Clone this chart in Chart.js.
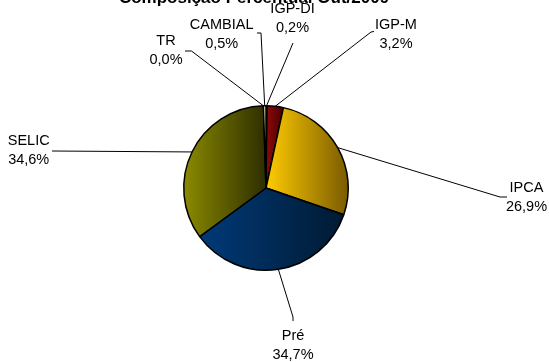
<!DOCTYPE html>
<html>
<head>
<meta charset="utf-8">
<script src="https://cdn.jsdelivr.net/npm/chart.js@4.4.1/dist/chart.umd.min.js"></script>
<style>
  html, body { margin: 0; padding: 0; background: #ffffff; }
  #wrap { width: 549px; height: 362px; position: relative; }
</style>
</head>
<body>
<div id="wrap"><canvas id="c" width="549" height="362"></canvas></div>
<script>
// Composição percentual por indexador
const categories = ['IGP-DI', 'IGP-M', 'IPCA', 'Pré', 'SELIC', 'TR', 'CAMBIAL'];
const shares = [0.2, 3.2, 26.9, 34.7, 34.6, 0.0, 0.5];
const shareLabels = ['0,2%', '3,2%', '26,9%', '34,7%', '34,6%', '0,0%', '0,5%'];
const chartTitle = 'Composição Percentual Out/2009';

// Slice shading: light colour on the left edge, dark on the right edge
const lightColors = ['#c8c8ff', '#8e0a0a', '#ffcc00', '#003a78', '#8a8a00', '#ffffff', '#fffbd0'];
const darkColors  = ['#6b6bb0', '#4a0000', '#7a5a00', '#001a33', '#2e2e00', '#dddddd', '#e8e0a0'];

// Label boxes (text centre) and the bend points of each leader line
const labelPlacement = [
  { x: 292.5, y: 9,   path: [[293, 43]] },                 // IGP-DI
  { x: 396,   y: 24.5, path: [[374, 31.5], [371, 32]] },   // IGP-M
  { x: 526.5, y: 187.5, path: [[507, 197], [500, 197]] },  // IPCA
  { x: 293,   y: 336, path: [[293, 321], [293, 317]] },    // Pré
  { x: 28.7,  y: 141, path: [[52, 151]] },                 // SELIC
  { x: 166,   y: 41,  path: [[185, 51], [191.5, 51]] },    // TR
  { x: 221.7, y: 25,  path: [[257, 33], [261, 33]] }       // CAMBIAL
];
const lineGap = 19;

function sliceXRange(el) {
  const { x, startAngle, endAngle, outerRadius } = el;
  let xs = [x, x + outerRadius * Math.cos(startAngle), x + outerRadius * Math.cos(endAngle)];
  const twoPi = Math.PI * 2;
  for (let k = -2; k <= 2; k++) {
    const a0 = k * twoPi, a1 = Math.PI + k * twoPi;
    if (a0 >= startAngle && a0 <= endAngle) xs.push(x + outerRadius);
    if (a1 >= startAngle && a1 <= endAngle) xs.push(x - outerRadius);
  }
  return [Math.min(...xs), Math.max(...xs)];
}

const shading = {
  id: 'shading',
  beforeDatasetsDraw(chart) {
    const ctx = chart.ctx;
    chart.getDatasetMeta(0).data.forEach((el, i) => {
      const [x0, x1] = sliceXRange(el);
      const g = ctx.createLinearGradient(x0, 0, Math.max(x1, x0 + 1), 0);
      g.addColorStop(0, lightColors[i]);
      g.addColorStop(1, darkColors[i]);
      el.options.backgroundColor = g;
    });
  }
};

const callouts = {
  id: 'callouts',
  afterDatasetsDraw(chart) {
    const ctx = chart.ctx;
    const meta = chart.getDatasetMeta(0);
    ctx.save();
    // title, clipped by the top edge of the canvas
    ctx.fillStyle = '#000';
    ctx.font = 'bold 17px "Liberation Sans", Arial, sans-serif';
    ctx.textAlign = 'center';
    ctx.textBaseline = 'alphabetic';
    ctx.fillText(chartTitle, 254, 3);

    ctx.strokeStyle = '#000';
    ctx.lineWidth = 1;
    meta.data.forEach((el, i) => {
      const mid = (el.startAngle + el.endAngle) / 2;
      const r = el.outerRadius;
      const ax = el.x + r * Math.cos(mid);
      const ay = el.y + r * Math.sin(mid);
      const p = labelPlacement[i];
      ctx.beginPath();
      ctx.moveTo(p.path[0][0], p.path[0][1]);
      for (let k = 1; k < p.path.length; k++) ctx.lineTo(p.path[k][0], p.path[k][1]);
      ctx.lineTo(ax, ay);
      ctx.stroke();

      ctx.font = '14.5px "Liberation Sans", Arial, sans-serif';
      ctx.textAlign = 'center';
      ctx.textBaseline = 'middle';
      ctx.fillText(categories[i], p.x, p.y);
      ctx.fillText(shareLabels[i], p.x, p.y + lineGap);
    });
    ctx.restore();
  }
};

new Chart(document.getElementById('c'), {
  type: 'pie',
  data: {
    labels: categories,
    datasets: [{
      data: shares,
      backgroundColor: lightColors,
      borderColor: '#000000',
      borderWidth: 1.5,
      borderAlign: 'center'
    }]
  },
  options: {
    responsive: false,
    animation: false,
    layout: { padding: { left: 183, right: 200, top: 105, bottom: 91 } },
    plugins: {
      legend: { display: false },
      tooltip: { enabled: false },
      title: { display: false }
    }
  },
  plugins: [shading, callouts]
});
</script>
</body>
</html>
